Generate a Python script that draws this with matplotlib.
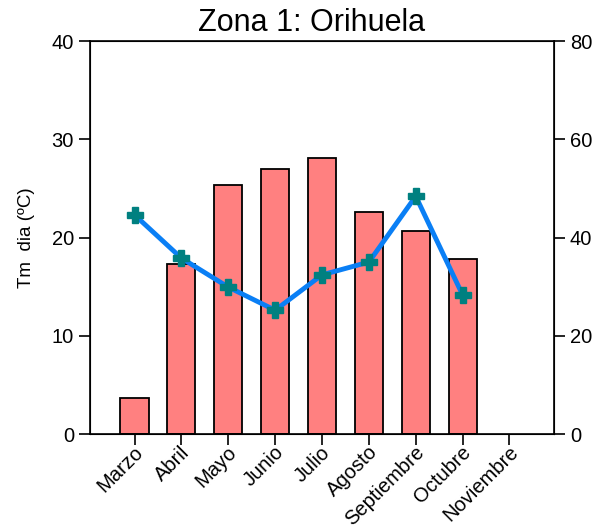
import matplotlib.pyplot as plt
import matplotlib.transforms as mtransforms
import numpy as np

plt.rcParams['font.family'] = ['Liberation Sans', 'DejaVu Sans']

months = ['Marzo', 'Abril', 'Mayo', 'Junio', 'Julio', 'Agosto',
          'Septiembre', 'Octubre', 'Noviembre']
tm_dia = [3.7, 17.3, 25.3, 27.0, 28.1, 22.6, 20.7, 17.8, np.nan]
serie_der = [44.6, 35.8, 29.9, 25.2, 32.4, 35.0, 48.4, 28.3, np.nan]

fig = plt.figure(figsize=(6.01, 5.32), dpi=100)
ax = fig.add_axes([0.1498, 0.1842, 0.772, 0.7387])
x = np.arange(len(months))

ax.bar(x, tm_dia, width=0.6, color='#ff8080', edgecolor='black', linewidth=1.3, zorder=2)
ax.set_xlim(-0.95, 8.95)
ax.set_ylim(0, 40)
ax.set_yticks([0, 10, 20, 30, 40])
ax.set_xticks(x)
ax.set_xticklabels(months, rotation=45, ha='right', va='center',
                   rotation_mode='anchor', fontsize=12)
ax.set_ylabel('Tm  dia (ºC)', fontsize=13.5, labelpad=12)
ax.set_title('Zona 1: Orihuela', fontsize=22, pad=7, x=0.477)
ax.tick_params(direction='out', length=8, width=1.2, labelsize=14.5)
ax.tick_params(axis='x', pad=3)
for s in ax.spines.values():
    s.set_linewidth(1.2)

# nudge the rotated month labels a bit to the right
shift = mtransforms.ScaledTranslation(4 / 72, 0, fig.dpi_scale_trans)
for lbl in ax.get_xticklabels():
    lbl.set_transform(lbl.get_transform() + shift)

ax2 = ax.twinx()
ax2.plot(x, serie_der, color='#0a7ff5', linewidth=3.5, marker='P', markersize=11,
         markerfacecolor='#008080', markeredgecolor='#008080', zorder=3)
ax2.set_ylim(0, 80)
ax2.set_yticks([0, 20, 40, 60, 80])
ax2.tick_params(direction='out', length=8, width=1.2, labelsize=14.5)

fig.savefig('out.png', dpi=100)
